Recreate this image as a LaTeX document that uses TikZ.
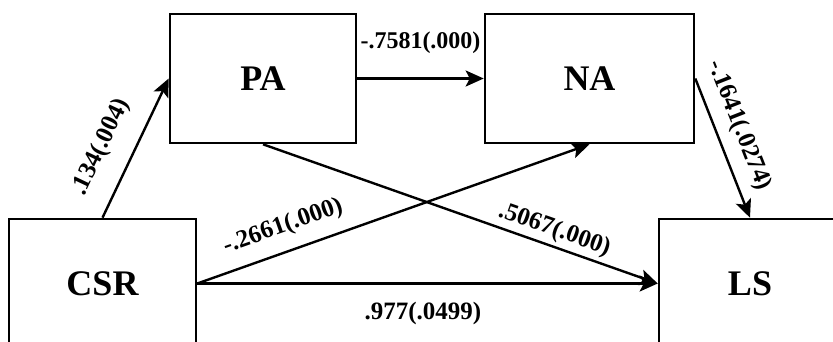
\documentclass[tikz,border=0pt]{standalone}
\usepackage{fontspec}
\setmainfont{Liberation Serif}
\usetikzlibrary{arrows.meta}
\begin{document}
\begin{tikzpicture}[x=1pt,y=-1pt,
  box/.style={draw, line width=2.6pt, inner sep=0pt, minimum height=129pt, font=\fontsize{36}{36}\selectfont\bfseries},
  conn/.style={line width=2.4pt, -{Stealth[length=18pt,width=16pt,inset=4pt]}},
  lab/.style={inner sep=0pt, font=\fontsize{25}{25}\selectfont\bfseries}]
\clip (0,0) rectangle (833,342);
\node[box, minimum width=186pt] (PA) at (263,78.5) {PA};
\node[box, minimum width=209pt] (NA) at (589.5,78.5) {NA};
\node[box, minimum width=187pt] (CSR) at (102.5,283.5) {CSR};
\node[box, minimum width=182pt] (LS) at (750,283.5) {LS};
\draw[conn] (CSR.north) -- node[lab, sloped, pos=0.41, above=19pt] {.134(.004)} (PA.west);
\draw[conn] (PA.east) -- node[lab, pos=0.5, above=24pt, font=\fontsize{24}{24}\selectfont\bfseries] {-.7581(.000)} (NA.west);
\draw[conn] (NA.east) -- node[lab, sloped, pos=0.40, above=11pt] {-.1641(.0274)} (LS.north);
\draw[conn] (CSR.east) -- node[lab, sloped, pos=0.24, above=12.5pt] {-.2661(.000)} (NA.south);
\draw[conn] (PA.south) -- node[lab, sloped, pos=0.725, above=3.5pt] {.5067(.000)} (LS.west);
\draw[conn] (CSR.east) -- node[lab, pos=0.49, below=17.5pt] {.977(.0499)} (LS.west);
\end{tikzpicture}
\end{document}
